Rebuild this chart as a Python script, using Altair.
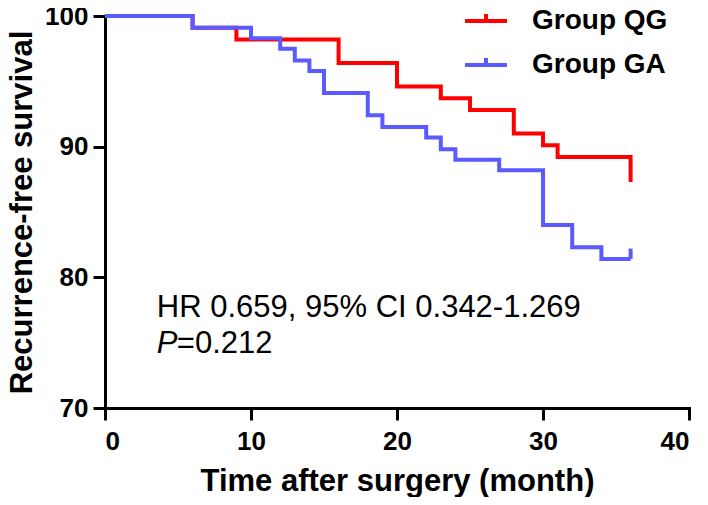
import altair as alt
import pandas as pd

# Kaplan-Meier step data
qg_time = [0, 6, 9, 16, 20, 23, 25, 28, 30, 31, 36]
qg_surv = [100, 99.1, 98.2, 96.4, 94.6, 93.7, 92.8, 91.0, 90.1, 89.2, 87.3]

ga_time = [0, 6, 10, 12, 13, 14, 15, 18, 19, 22, 23, 24, 27, 30, 32, 34, 36]
ga_surv = [100, 99.1, 98.3, 97.5, 96.6, 95.8, 94.1, 92.4, 91.5, 90.7, 89.8, 89.0, 88.2, 84.0, 82.3, 81.4, 81.4]

# censor tick at end of GA curve
ga_censor_time = [36]
ga_censor_low = [81.4]
ga_censor_high = [82.2]

groups = ["Group QG", "Group GA"]
colors = ["#FF0000", "#5A5AFF"]

x_ticks = [0, 10, 20, 30, 40]
y_ticks = [70, 80, 90, 100]

FONT = "Arial, Liberation Sans, sans-serif"

df_qg = pd.DataFrame({"t": qg_time, "s": qg_surv, "group": groups[0]})
df_ga = pd.DataFrame({"t": ga_time, "s": ga_surv, "group": groups[1]})
df_cens = pd.DataFrame({"t": ga_censor_time, "lo": ga_censor_low, "hi": ga_censor_high, "group": groups[1]})

xscale = alt.Scale(domain=[0, 40], nice=False, zero=False)
yscale = alt.Scale(domain=[70, 100], nice=False, zero=False)

color = alt.Color(
    "group:N",
    scale=alt.Scale(domain=groups, range=colors),
    legend=alt.Legend(
        title=None,
        orient="none",
        legendX=358,
        legendY=-18,
        symbolType="M-1,0H1M0,0V-0.33",
        symbolSize=1764,
        symbolStrokeWidth=4,
        symbolFillColor="transparent",
        labelFont=FONT,
        labelFontSize=28,
        labelFontWeight="bold",
        labelColor="black",
        labelOffset=23,
        rowPadding=7,
        padding=0,
        labelLimit=400,
    ),
)

xaxis = alt.Axis(
    values=x_ticks, title="Time after surgery (month)", grid=False,
    domainColor="black", domainWidth=3, tickColor="black", tickWidth=3, tickSize=12,
    labelFont=FONT, labelFontSize=26, labelFontWeight="bold", labelColor="black", labelPadding=8,
    titleFont=FONT, titleFontSize=31, titleFontWeight="bold", titleColor="black",
    titleY=82, titleBaseline="alphabetic",
)
yaxis = alt.Axis(
    values=y_ticks, title="Recurrence-free survival", grid=False,
    domainColor="black", domainWidth=3, tickColor="black", tickWidth=3, tickSize=12,
    labelFont=FONT, labelFontSize=26, labelFontWeight="bold", labelColor="black", labelPadding=5,
    titleFont=FONT, titleFontSize=31, titleFontWeight="bold", titleColor="black",
    titleX=-74, titleBaseline="alphabetic",
)

line_qg = alt.Chart(df_qg).mark_line(interpolate="step-after", strokeWidth=4, clip=False).encode(
    x=alt.X("t:Q", scale=xscale, axis=xaxis),
    y=alt.Y("s:Q", scale=yscale, axis=yaxis),
    color=color,
)
line_ga = alt.Chart(df_ga).mark_line(interpolate="step-after", strokeWidth=4, clip=False).encode(
    x=alt.X("t:Q", scale=xscale),
    y=alt.Y("s:Q", scale=yscale),
    color=color,
)
cens = alt.Chart(df_cens).mark_rule(strokeWidth=4).encode(
    x=alt.X("t:Q", scale=xscale),
    y=alt.Y("lo:Q", scale=yscale),
    y2="hi:Q",
    color=color,
)

hr_text = alt.Chart(pd.DataFrame({"a": [0]})).mark_text(
    text="HR 0.659, 95% CI 0.342-1.269", align="left", baseline="alphabetic",
    font=FONT, fontSize=31, color="black",
).encode(x=alt.datum(3.55), y=alt.datum(77.0))

p_text = alt.Chart(pd.DataFrame({"a": [0]})).mark_text(
    text="P", align="left", baseline="alphabetic",
    font=FONT, fontSize=31, fontStyle="italic", color="black",
).encode(x=alt.datum(3.55), y=alt.datum(74.2))

p_val = alt.Chart(pd.DataFrame({"a": [0]})).mark_text(
    text="=0.212", align="left", baseline="alphabetic", dx=20,
    font=FONT, fontSize=31, color="black",
).encode(x=alt.datum(3.55), y=alt.datum(74.2))

chart = alt.layer(line_qg, line_ga, cens, hr_text, p_text, p_val).properties(
    width=584, height=392,
    autosize=alt.AutoSizeParams(type="none"),
    padding={"left": 97, "top": 8, "right": 11, "bottom": 89},
).configure_view(stroke=None).configure_axis(domainCap="square")

chart.save("out.html", embed_options={"renderer": "svg", "actions": False})
